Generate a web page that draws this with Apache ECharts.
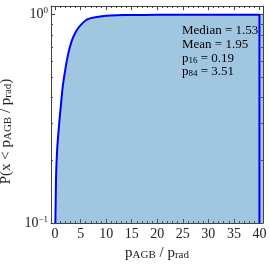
<!DOCTYPE html>
<html><head><meta charset="utf-8">
<script src="https://cdn.jsdelivr.net/npm/echarts@6/dist/echarts.min.js"></script>
<style>html,body{margin:0;padding:0;background:#fff}#c{width:270px;height:270px}</style>
</head><body><div id="c"></div>
<script>
// ---- data ----
const xValues   = [0.05, 0.1, 0.15, 0.2, 0.3, 0.45, 0.65, 0.85, 1.1, 1.4, 1.7, 2.0, 2.4, 2.9, 3.5, 4.2, 5.0, 6.0, 7.0, 8.5, 10, 12, 15, 20, 25, 30, 35, 40];
const cdfValues = [0.1, 0.12, 0.145, 0.17, 0.2, 0.235, 0.27, 0.31, 0.36, 0.43, 0.49, 0.545, 0.62, 0.70, 0.775, 0.84, 0.89, 0.94, 0.962, 0.978, 0.987, 0.993, 0.996, 0.998, 0.999, 1, 1, 1];
const xMajorTicks = [0, 5, 10, 15, 20, 25, 30, 35, 40];
const xMinorTicks = [1,2,3,4,6,7,8,9,11,12,13,14,16,17,18,19,21,22,23,24,26,27,28,29,31,32,33,34,36,37,38,39];
const yMajorTicks = [0.1, 1];
const yMinorTicks = [0.2, 0.3, 0.4, 0.5, 0.6, 0.7, 0.8, 0.9];
const yTickLabels = ['{b|10}{s|\u22121}', '{b|10}{s|0}'];
const statNames  = ['Median', 'Mean', 'p16', 'p84'];
const statValues = ['1.53', '1.95', '0.19', '3.51'];

const X_MIN = -0.8, X_MAX = 40.7, Y_MIN = 0.1, Y_MAX = 1.1;
const FONT = 'Liberation Serif';
const FRAME = '#444';

const curve = xValues.map((x, i) => [x, cdfValues[i]]);
const curveLine = curve.concat([[xValues[xValues.length - 1], Y_MIN]]);
const fillData = curve.concat([[X_MAX, cdfValues[cdfValues.length - 1]]]);

const chart = echarts.init(document.getElementById('c'), null, {renderer: 'canvas'});

function xAx(pos, ticks, len, showLabel, showLine) {
  return {
    type: 'value', position: pos, min: X_MIN, max: X_MAX,
    axisLine: {show: showLine, onZero: false, lineStyle: {color: FRAME, width: 1}},
    axisTick: {show: true, inside: true, length: len, customValues: ticks, lineStyle: {color: FRAME, width: 1}},
    axisLabel: {show: showLabel, customValues: ticks, fontFamily: FONT, fontSize: 14, color: '#222', margin: 4},
    splitLine: {show: false}
  };
}
function yAx(pos, ticks, len, showLabel, showLine) {
  return {
    type: 'log', logBase: 10, position: pos, min: Y_MIN, max: Y_MAX,
    axisLine: {show: showLine, onZero: false, lineStyle: {color: FRAME, width: 1}},
    axisTick: {show: true, inside: true, length: len, customValues: ticks, lineStyle: {color: FRAME, width: 1}},
    axisLabel: {
      show: showLabel, customValues: ticks, margin: 3,
      formatter: function (v) { return Math.abs(v - 1) < 1e-6 ? yTickLabels[1] : yTickLabels[0]; },
      rich: {
        b: {fontFamily: FONT, fontSize: 14, color: '#222', lineHeight: 16},
        s: {fontFamily: FONT, fontSize: 9, color: '#222', lineHeight: 16, verticalAlign: 'top', padding: [0, 0, 6, 0]}
      }
    },
    splitLine: {show: false}
  };
}

const nameRich = {
  t: {fontFamily: FONT, fontSize: 15, color: '#222'},
  sub: {fontFamily: FONT, fontSize: 11, color: '#222', verticalAlign: 'bottom', padding: [3, 0, 0, 0]}
};

const xAxes = [
  xAx('bottom', xMajorTicks, 4, true, true),
  xAx('bottom', xMinorTicks, 2, false, false),
  xAx('top', xMajorTicks, 4, false, true),
  xAx('top', xMinorTicks, 2, false, false)
];
xAxes[0].name = '{t|p}{sub|AGB}{t| / p}{sub|rad}';
xAxes[0].nameLocation = 'middle';
xAxes[0].nameGap = 11;
xAxes[0].nameTextStyle = {rich: nameRich};

const yAxes = [
  yAx('left', yMajorTicks, 4, true, true),
  yAx('left', yMinorTicks, 2, false, false),
  yAx('right', yMajorTicks, 4, false, true),
  yAx('right', yMinorTicks, 2, false, false)
];
yAxes[0].name = '{t|P(x < p}{sub|AGB}{t| / p}{sub|rad}{t|)}';
yAxes[0].nameLocation = 'middle';
yAxes[0].nameGap = 29;
yAxes[0].nameTextStyle = {rich: nameRich, padding: [0, 34, 0, 0]};

const statRich = {
  t: {fontFamily: FONT, fontSize: 13, color: '#222'},
  sub: {fontFamily: FONT, fontSize: 9, color: '#222', verticalAlign: 'bottom', padding: [3, 0, 0, 0]}
};
function statText(name, val) {
  if (name.length > 1 && name[0] === 'p' && /^\d+$/.test(name.slice(1))) {
    return '{t|p}{sub|' + name.slice(1) + '}{t| = ' + val + '}';
  }
  return '{t|' + name + ' = ' + val + '}';
}
const statY = [32, 46, 60, 73];
const graphic = statNames.map((n, i) => ({
  type: 'text', left: 182, top: statY[i] - 8, z: 100,
  style: {text: statText(n, statValues[i]), rich: statRich, fontFamily: FONT, fontSize: 13}
}));

chart.setOption({
  animation: false,
  backgroundColor: '#fff',
  grid: {left: 51, right: 7, top: 6, bottom: 47, containLabel: false, outerBoundsMode: 'none'},
  xAxis: xAxes,
  yAxis: yAxes,
  graphic: graphic,
  series: [
    {
      type: 'line', data: fillData, xAxisIndex: 0, yAxisIndex: 0,
      symbol: 'none', smooth: 0.2, lineStyle: {width: 0, opacity: 0},
      areaStyle: {color: 'rgba(31,119,180,0.42)', origin: 'start', opacity: 1},
      z: 1
    },
    {
      type: 'line', data: curveLine, xAxisIndex: 0, yAxisIndex: 0,
      symbol: 'none', smooth: 0.2, lineStyle: {width: 2, color: '#0000ff'},
      z: 2
    }
  ]
});
</script>
</body></html>
